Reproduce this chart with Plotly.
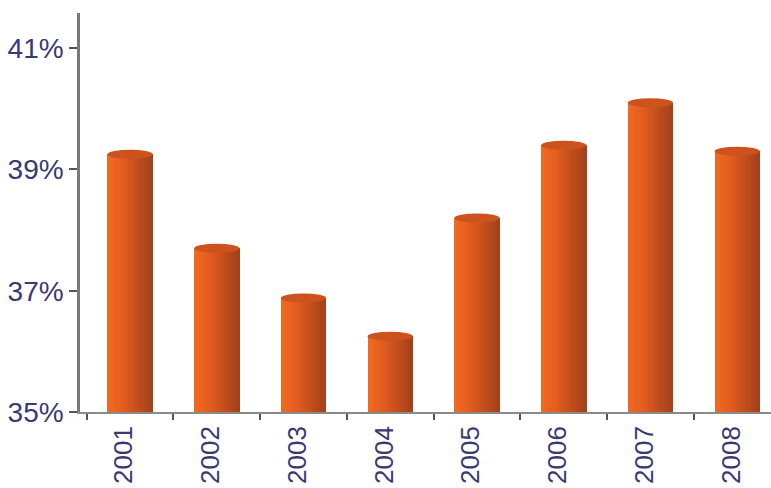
import plotly.graph_objects as go

years = ["2001", "2002", "2003", "2004", "2005", "2006", "2007", "2008"]
values = [39.25, 37.7, 36.88, 36.25, 38.2, 39.4, 40.1, 39.3]
y_ticks = [35, 37, 39, 41]
y_tick_labels = ["35%", "37%", "39%", "41%"]

BAR_W = 0.52
N_STRIPS = 18
LEFT = (242, 106, 33)
MID = (226, 92, 30)
RIGHT = (160, 64, 26)


def lerp(a, b, t):
    return tuple(int(round(a[i] + (b[i] - a[i]) * t)) for i in range(3))


def strip_color(t):
    if t < 0.35:
        c = lerp(LEFT, MID, t / 0.35)
    else:
        c = lerp(MID, RIGHT, (t - 0.35) / 0.65)
    return "rgb(%d,%d,%d)" % c


fig = go.Figure()
sw = BAR_W / N_STRIPS
for k in range(N_STRIPS):
    t = (k + 0.5) / N_STRIPS
    fig.add_trace(go.Bar(
        x=years, y=values,
        width=sw * 1.15,
        offset=-BAR_W / 2 + k * sw,
        marker=dict(color=strip_color(t), line=dict(width=0)),
        showlegend=False, hoverinfo="skip" if k else "x+y",
    ))

# elliptical cylinder tops
dy = 0.075
for i, v in enumerate(values):
    fig.add_shape(type="circle", xref="x", yref="y",
                  x0=i - BAR_W / 2, x1=i + BAR_W / 2,
                  y0=v - dy, y1=v + dy,
                  fillcolor="rgb(204,82,30)", line=dict(width=0), layer="above")

font_color = "#3a3972"
fig.update_layout(
    width=771, height=488,
    margin=dict(l=80, r=0, t=13, b=76, autoexpand=False),
    paper_bgcolor="white", plot_bgcolor="white",
    barmode="overlay", bargap=0,
    font=dict(family="Liberation Sans, Arial, sans-serif", size=28, color=font_color),
    xaxis=dict(
        type="category", range=[-0.577, 7.39], automargin=False,
        showline=True, linecolor="#8a8a8a", linewidth=1.5,
        ticks="outside", tickson="boundaries", ticklen=6, tickcolor="#555555", tickwidth=1.5,
        tickangle=-90, tickfont=dict(size=26, color=font_color),
        ticklabelstandoff=2, ticklabelshift=-6,
        showgrid=False, zeroline=False,
    ),
    yaxis=dict(
        range=[35, 41.58], automargin=False,
        tickvals=y_ticks, ticktext=y_tick_labels,
        showline=True, linecolor="#7a7a7a", linewidth=2.5,
        ticks="outside", ticklen=8, tickcolor="#555555", tickwidth=1.5,
        tickfont=dict(size=28, color=font_color),
        showgrid=False, zeroline=False,
    ),
)

fig.write_html("out.html")
